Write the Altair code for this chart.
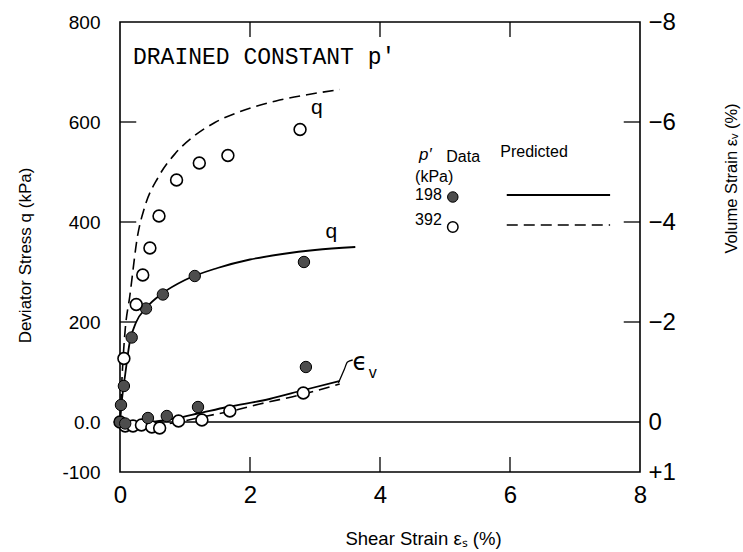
import altair as alt
import pandas as pd

# ---------------- data ----------------
# measured deviator stress q (kPa) vs shear strain (%)
q198_x = [0.0, 0.015, 0.06, 0.18, 0.40, 0.66, 1.15, 2.83]
q198_y = [0, 34, 72, 169, 227, 255, 292, 320]
q392_x = [0.0, 0.06, 0.25, 0.35, 0.46, 0.60, 0.87, 1.22, 1.66, 2.77]
q392_y = [0, 127, 235, 294, 348, 412, 484, 518, 533, 585]

# predicted q curves
pq198_x = [0, 0.03, 0.08, 0.15, 0.25, 0.4, 0.66, 1.0, 1.5, 2.0, 2.5, 3.0, 3.62]
pq198_y = [0, 45, 95, 160, 200, 228, 258, 284, 308, 325, 336, 344, 350]
pq392_x = [0, 0.04, 0.08, 0.15, 0.27, 0.38, 0.59, 0.85, 1.15, 1.46, 1.85, 2.4, 2.9, 3.38]
pq392_y = [0, 110, 185, 251, 372, 430, 490, 537, 573, 599, 621, 642, 655, 665]

# measured volume strain (%) vs shear strain (%)
ev198_x = [0.0, 0.08, 0.43, 0.72, 1.2, 2.86]
ev198_y = [0.0, 0.03, -0.08, -0.12, -0.30, -1.10]
ev392_x = [0.08, 0.2, 0.33, 0.49, 0.61, 0.9, 1.26, 1.69, 2.82]
ev392_y = [0.08, 0.08, 0.06, 0.10, 0.12, -0.02, -0.04, -0.22, -0.58]

# predicted volume strain curves
pev198_x = [0, 0.2, 0.5, 0.88, 1.2, 1.65, 2.3, 2.83, 3.38]
pev198_y = [0, 0.04, 0.0, -0.08, -0.17, -0.30, -0.46, -0.64, -0.82]
pev392_x = [0, 0.2, 0.5, 0.9, 1.34, 1.72, 2.15, 2.83, 3.38]
pev392_y = [0, 0.10, 0.08, 0.0, -0.12, -0.22, -0.36, -0.56, -0.76]

# axis tick values
x_ticks = [0, 2, 4, 6, 8]
q_ticks = [-100, 0, 200, 400, 600, 800]
ev_ticks = [-8, -6, -4, -2, 0, 1]
x_inner_ticks = [2, 4, 6]
q_inner_ticks = [200, 400, 600]
ev_inner_ticks = [-6, -4, -2]

# annotation texts
title_text = "DRAINED CONSTANT p\u2032"
legend_header = ["p\u2032", "Data", "Predicted"]
legend_rows = ["(kPa)", "198", "392"]

# ---------------- scales / axes ----------------
FONT = "Liberation Sans"
xscale = alt.Scale(domain=[0, 8], nice=False, zero=False)
qscale = alt.Scale(domain=[-100, 800], nice=False, zero=False)
escale = alt.Scale(domain=[-8, 1], nice=False, zero=False, reverse=True)

xaxis = alt.Axis(values=x_ticks, ticks=False, tickSize=0, domain=False, grid=False,
                 labelFont=FONT, labelFontSize=24, labelPadding=11, labelColor="black",
                 labelFlush=False,
                 title="Shear Strain \u03b5\u209b (%)", titleFont=FONT, titleFontSize=18.5,
                 titleFontWeight="normal", titleColor="black",
                 titleX=303, titleY=66, titleBaseline="middle")
qaxis = alt.Axis(values=q_ticks, ticks=False, tickSize=0, domain=False, grid=False,
                 labelExpr="datum.value == 0 ? '0.0' : '' + datum.value",
                 labelFont=FONT, labelFontSize=19, labelPadding=20, labelColor="black",
                 labelFlush=False,
                 title="Deviator Stress q (kPa)", titleFont=FONT, titleFontSize=17,
                 titleFontWeight="normal", titleColor="black", titleAngle=270,
                 titleX=-95, titleY=233, titleBaseline="middle")
eaxis = alt.Axis(orient="right", values=ev_ticks, ticks=False, tickSize=0, domain=False,
                 grid=False,
                 labelExpr="datum.value > 0 ? '+' + datum.value : (datum.value < 0 ? '\u2212' + abs(datum.value) : '0')",
                 labelFont=FONT, labelFontSize=24, labelPadding=8, labelColor="black",
                 labelFlush=False,
                 title="Volume Strain \u03b5\u1d65 (%)", titleFont=FONT, titleFontSize=16.5,
                 titleFontWeight="normal", titleColor="black", titleAngle=270,
                 titleX=91, titleY=156, titleBaseline="middle")

X = alt.X("x:Q", scale=xscale, axis=xaxis)
YQ = alt.Y("q:Q", scale=qscale, axis=qaxis)
YE = alt.Y("ev:Q", scale=escale, axis=eaxis)


def qdf(xs, ys):
    return pd.DataFrame({"x": xs, "q": ys})


def edf(xs, ys):
    return pd.DataFrame({"x": xs, "ev": ys})


DASH = [11, 6]

# ---------------- left (q) layers ----------------
zero_line = alt.Chart(pd.DataFrame({"x": [0], "x2": [8], "q": [0]})).mark_rule(
    color="black", strokeWidth=1.3).encode(x=X, x2="x2:Q", y=YQ)

ticks_left = alt.Chart(pd.DataFrame({"q": q_inner_ticks})).transform_calculate(
    x="0", x2="0.25").mark_rule(color="black", strokeWidth=1.3).encode(
    x=X, x2="x2:Q", y=YQ)
ticks_bottom = alt.Chart(pd.DataFrame({"x": x_inner_ticks})).transform_calculate(
    q="-100", q2="-70").mark_rule(color="black", strokeWidth=1.3).encode(
    x=X, y=YQ, y2="q2:Q")
ticks_top = alt.Chart(pd.DataFrame({"x": x_inner_ticks})).transform_calculate(
    q="800", q2="770").mark_rule(color="black", strokeWidth=1.3).encode(
    x=X, y=YQ, y2="q2:Q")

line_q198 = alt.Chart(qdf(pq198_x, pq198_y)).mark_line(
    color="black", strokeWidth=1.8, interpolate="monotone").encode(x=X, y=YQ)
line_q392 = alt.Chart(qdf(pq392_x, pq392_y)).mark_line(
    color="black", strokeWidth=1.6, strokeDash=DASH, interpolate="monotone").encode(x=X, y=YQ)

pts_q198 = alt.Chart(qdf(q198_x, q198_y)).mark_point(
    shape="circle", filled=True, fill="#4d4d4d", stroke="black", strokeWidth=1,
    size=130, opacity=1).encode(x=X, y=YQ)
pts_q392 = alt.Chart(qdf(q392_x, q392_y)).mark_point(
    shape="circle", filled=False, fill="white", fillOpacity=1, stroke="black",
    strokeWidth=1.6, size=140, opacity=1).encode(x=X, y=YQ)

title_mark = alt.Chart(pd.DataFrame({"x": [0.2], "q": [730], "t": [title_text]})).mark_text(
    align="left", baseline="middle", font="Liberation Mono", fontSize=23, color="black"
).encode(x=X, y=YQ, text="t:N")

q_labels = alt.Chart(pd.DataFrame({"x": [3.03, 3.25], "q": [628, 380], "t": ["q", "q"]})).mark_text(
    align="center", baseline="middle", font=FONT, fontSize=21, color="black"
).encode(x=X, y=YQ, text="t:N")

ev_label = alt.Chart(pd.DataFrame({"x": [3.69], "q": [118], "t": ["\u03f5"]})).mark_text(
    align="center", baseline="middle", font="DejaVu Sans", fontSize=24, color="black"
).encode(x=X, y=YQ, text="t:N")
ev_sub = alt.Chart(pd.DataFrame({"x": [3.89], "q": [98], "t": ["v"]})).mark_text(
    align="center", baseline="middle", font=FONT, fontSize=16, color="black"
).encode(x=X, y=YQ, text="t:N")
leader = alt.Chart(pd.DataFrame({"x": [3.58, 3.5, 3.45, 3.36], "q": [124, 120, 105, 78]})).mark_line(
    color="black", strokeWidth=1.3, interpolate="monotone").encode(x=X, y=YQ, order="q:Q")

# legend built in data space
leg_head = alt.Chart(pd.DataFrame({"x": [5.28, 6.37], "q": [530, 540],
                                   "t": legend_header[1:]})).mark_text(
    align="center", baseline="middle", font=FONT, fontSize=16, color="black"
).encode(x=X, y=YQ, text="t:N")
leg_p = alt.Chart(pd.DataFrame({"x": [4.6], "q": [534], "t": legend_header[:1]})).mark_text(
    align="left", baseline="middle", font=FONT, fontSize=17, fontStyle="italic", color="black"
).encode(x=X, y=YQ, text="t:N")
leg_rows = alt.Chart(pd.DataFrame({"x": [4.54, 4.54, 4.54], "q": [490, 454, 404],
                                   "t": legend_rows})).mark_text(
    align="left", baseline="middle", font=FONT, fontSize=16, color="black"
).encode(x=X, y=YQ, text="t:N")
leg_pt_f = alt.Chart(pd.DataFrame({"x": [5.12], "q": [450]})).mark_point(
    shape="circle", filled=True, fill="#4d4d4d", stroke="black", strokeWidth=1,
    size=110, opacity=1).encode(x=X, y=YQ)
leg_pt_o = alt.Chart(pd.DataFrame({"x": [5.12], "q": [390]})).mark_point(
    shape="circle", filled=False, fill="white", fillOpacity=1, stroke="black",
    strokeWidth=1.5, size=110, opacity=1).encode(x=X, y=YQ)
leg_line_s = alt.Chart(pd.DataFrame({"x": [5.95], "x2": [7.54], "q": [454]})).mark_rule(
    color="black", strokeWidth=1.8).encode(x=X, x2="x2:Q", y=YQ)
leg_line_d = alt.Chart(pd.DataFrame({"x": [5.95], "x2": [7.54], "q": [394]})).mark_rule(
    color="black", strokeWidth=1.6, strokeDash=DASH).encode(x=X, x2="x2:Q", y=YQ)

left = alt.layer(zero_line, ticks_left, ticks_bottom, ticks_top,
                 line_q198, line_q392, leader,
                 pts_q198, pts_q392,
                 title_mark, q_labels, ev_label, ev_sub,
                 leg_head, leg_p, leg_rows, leg_pt_f, leg_pt_o, leg_line_s, leg_line_d)

# ---------------- right (volume strain) layers ----------------
ticks_right = alt.Chart(pd.DataFrame({"ev": ev_inner_ticks})).transform_calculate(
    x="7.75", x2="8").mark_rule(color="black", strokeWidth=1.3).encode(
    x=X, x2="x2:Q", y=YE)
line_e198 = alt.Chart(edf(pev198_x, pev198_y)).mark_line(
    color="black", strokeWidth=1.8, interpolate="monotone").encode(x=X, y=YE)
line_e392 = alt.Chart(edf(pev392_x, pev392_y)).mark_line(
    color="black", strokeWidth=1.6, strokeDash=DASH, interpolate="monotone").encode(x=X, y=YE)
pts_e198 = alt.Chart(edf(ev198_x, ev198_y)).mark_point(
    shape="circle", filled=True, fill="#4d4d4d", stroke="black", strokeWidth=1,
    size=130, opacity=1).encode(x=X, y=YE)
pts_e392 = alt.Chart(edf(ev392_x, ev392_y)).mark_point(
    shape="circle", filled=False, fill="white", fillOpacity=1, stroke="black",
    strokeWidth=1.6, size=140, opacity=1).encode(x=X, y=YE)

right = alt.layer(ticks_right, line_e198, line_e392, pts_e392, pts_e198)

chart = alt.layer(left, right).resolve_scale(y="independent").properties(
    width=520, height=450,
    autosize=alt.AutoSizeParams(type="none"),
    padding={"left": 120, "top": 22, "right": 103, "bottom": 80},
    background="white",
).configure_view(stroke="black", strokeWidth=1.6)

chart.save("out.html", embed_options={"renderer": "svg", "actions": False})
